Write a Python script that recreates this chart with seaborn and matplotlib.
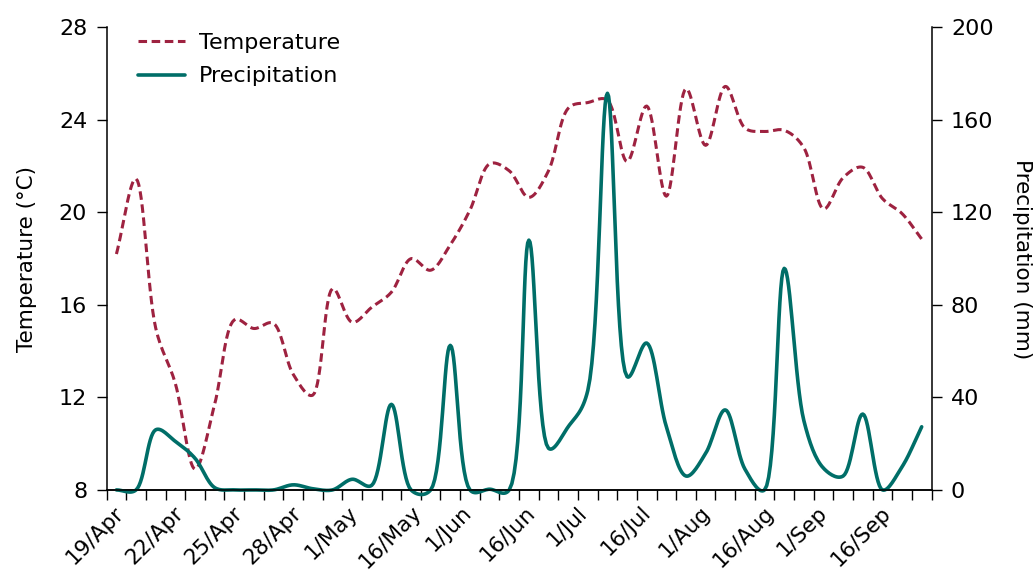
import numpy as np
import pandas as pd
import matplotlib
matplotlib.use("Agg")
import matplotlib.pyplot as plt
import matplotlib.transforms as mtransforms
import seaborn as sns

# values, one per half-tick slot (42 slots)
temperature = [18.2, 21.45, 15.0, 12.6, 8.9, 11.7, 15.35, 14.98, 15.2, 13.0,
               12.1, 16.7, 15.25, 15.9, 16.55, 18.0, 17.5, 18.6, 20.1, 22.1,
               21.8, 20.65, 21.8, 24.5, 24.75, 24.85, 22.2, 24.6, 20.7, 25.35,
               22.9, 25.45, 23.65, 23.5, 23.55, 22.8, 20.15, 21.5, 21.95, 20.6,
               19.95, 18.85]
precipitation = [0, 0, 26, 21, 13.7, 1, 0, 0, 0, 2.2,
                 0.5, 0, 4.6, 2.0, 37, 0, 0, 62.5, 0, 0.3,
                 0, 108, 18, 27.3, 43, 171.5, 49, 63.5, 27.3, 6,
                 15.8, 34.6, 9, 0, 95.8, 30, 9.4, 6, 32.8, 0,
                 10, 27.3]
tick_labels = ["19/Apr", "22/Apr", "25/Apr", "28/Apr", "1/May", "16/May", "1/Jun",
               "16/Jun", "1/Jul", "16/Jul", "1/Aug", "16/Aug", "1/Sep", "16/Sep"]

temp_color = "#9e2240"
prec_color = "#006e68"


def catmull_rom(y, yscale, xscale=19.64, n=16, alpha=0.4):
    # centripetal catmull-rom through the points, worked out in pixel-like units
    P = np.column_stack([np.arange(len(y)) * xscale, np.asarray(y, float) * yscale])
    P = np.vstack([2 * P[0] - P[1], P, 2 * P[-1] - P[-2]])
    out = []
    for i in range(1, len(P) - 2):
        p0, p1, p2, p3 = P[i - 1], P[i], P[i + 1], P[i + 2]
        t0 = 0.0
        t1 = t0 + max(np.linalg.norm(p1 - p0), 1e-6) ** alpha
        t2 = t1 + max(np.linalg.norm(p2 - p1), 1e-6) ** alpha
        t3 = t2 + max(np.linalg.norm(p3 - p2), 1e-6) ** alpha
        t = np.linspace(t1, t2, n, endpoint=False)[:, None]
        a1 = (t1 - t) / (t1 - t0) * p0 + (t - t0) / (t1 - t0) * p1
        a2 = (t2 - t) / (t2 - t1) * p1 + (t - t1) / (t2 - t1) * p2
        a3 = (t3 - t) / (t3 - t2) * p2 + (t - t2) / (t3 - t2) * p3
        b1 = (t2 - t) / (t2 - t0) * a1 + (t - t0) / (t2 - t0) * a2
        b2 = (t3 - t) / (t3 - t1) * a2 + (t - t1) / (t3 - t1) * a3
        out.append((t2 - t) / (t2 - t1) * b1 + (t - t1) / (t2 - t1) * b2)
    out.append(P[-2][None, :])
    c = np.vstack(out)
    return c[:, 0] / xscale + 0.5, c[:, 1] / yscale


sns.set_style("ticks")
plt.rcParams["font.family"] = ["DejaVu Sans"]
plt.rcParams["text.color"] = "black"
plt.rcParams["axes.labelcolor"] = "black"
plt.rcParams["xtick.color"] = "black"
plt.rcParams["ytick.color"] = "black"

fig, ax = plt.subplots(figsize=(10.35, 5.71), dpi=100)
ax2 = ax.twinx()

tx, ty = catmull_rom(temperature, 23.17)
px, py = catmull_rom(precipitation, 2.315)
df_t = pd.DataFrame({"x": tx, "y": ty})
df_p = pd.DataFrame({"x": px, "y": py})

sns.lineplot(data=df_t, x="x", y="y", ax=ax, color=temp_color, lw=2.2,
             linestyle=(0, (2.8, 1.5)), label="Temperature", legend=False,
             sort=False, estimator=None, clip_on=False)
sns.lineplot(data=df_p, x="x", y="y", ax=ax2, color=prec_color, lw=2.6,
             label="Precipitation", legend=False, sort=False, estimator=None,
             clip_on=False)

ax.set_xlim(0, 42)
ax.set_ylim(8, 28)
ax2.set_ylim(0, 200)
ax.set_yticks(np.arange(8, 29, 4))
ax2.set_yticks(np.arange(0, 201, 40))

ax.set_xticks(np.arange(0, 42, 3))
ax.set_xticks(np.arange(0, 43, 1), minor=True)
ax.set_xticklabels(tick_labels, rotation=45, ha="center")
ax.tick_params(axis="x", which="both", length=7, width=1, labelsize=15.5, pad=2)
ax.tick_params(axis="y", length=7, width=1, labelsize=16, pad=7)
ax2.tick_params(axis="y", length=7, width=1, labelsize=16, pad=7)
shift = mtransforms.ScaledTranslation(-0.11, 0, fig.dpi_scale_trans)
for lab in ax.get_xticklabels():
    lab.set_transform(lab.get_transform() + shift)

ax.set_xlabel("")
ax.set_ylabel("Temperature (°C)", fontsize=15.5, labelpad=16)
ax2.set_ylabel("Precipitation (mm)", fontsize=15.5, rotation=270, labelpad=28)

for a in (ax, ax2):
    a.spines["top"].set_visible(False)
    for s in ("left", "right", "bottom"):
        a.spines[s].set_linewidth(1.1)
        a.spines[s].set_color("black")
ax.spines["right"].set_visible(False)
ax2.spines["left"].set_visible(False)

h1, l1 = ax.get_legend_handles_labels()
h2, l2 = ax2.get_legend_handles_labels()
ax.legend(h1 + h2, l1 + l2, loc="upper left", bbox_to_anchor=(0.014, 1.032),
          frameon=False, fontsize=16, handlelength=2.1, handletextpad=0.65,
          labelspacing=0.62)

fig.subplots_adjust(left=0.103, right=0.9, top=0.952, bottom=0.142)
fig.savefig("out.png", dpi=100)
